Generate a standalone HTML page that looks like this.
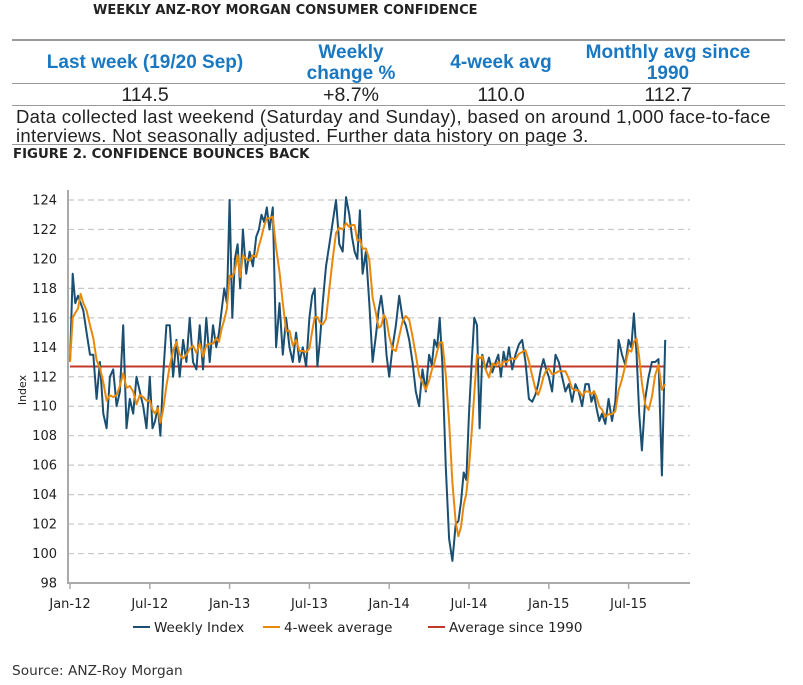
<!DOCTYPE html>
<html><head><meta charset="utf-8">
<style>
body{margin:0;background:#fff;width:803px;height:685px;position:relative;overflow:hidden;font-family:"DejaVu Sans","Liberation Sans",sans-serif;}
.abs{position:absolute;}
.title{left:93px;top:3px;font-size:13px;font-weight:bold;color:#222;}
.hl{left:12px;width:773px;height:0;border-top:2px solid #999;}
.th{color:#1a78c2;font-weight:bold;font-size:19px;text-align:center;line-height:21px;font-family:"Liberation Sans",sans-serif;white-space:nowrap;}
.td{font-size:19.5px;text-align:center;color:#222;font-family:"Liberation Sans",sans-serif;line-height:21px;}
.para{left:16px;top:107px;font-size:18.5px;letter-spacing:0.3px;line-height:19px;color:#222;font-family:"Liberation Sans",sans-serif;white-space:nowrap;}
.fig{left:13px;top:147px;font-size:13.3px;font-weight:bold;color:#222;}
.src{left:12px;top:663px;font-size:13.7px;color:#333;}
</style></head><body>
<div class="abs title">WEEKLY ANZ-ROY MORGAN CONSUMER CONFIDENCE</div>
<div class="abs hl" style="top:39px"></div>
<div class="abs th" style="left:10px;width:270px;top:52px">Last week (19/20 Sep)</div>
<div class="abs th" style="left:290px;width:122px;top:42px">Weekly<br>change %</div>
<div class="abs th" style="left:430px;width:142px;top:52px">4-week avg</div>
<div class="abs th" style="left:585px;width:166px;top:42px">Monthly avg since<br>1990</div>
<div class="abs hl" style="top:83px;border-top-width:1px"></div>
<div class="abs td" style="left:20px;width:250px;top:85px">114.5</div>
<div class="abs td" style="left:290px;width:122px;top:85px">+8.7%</div>
<div class="abs td" style="left:430px;width:142px;top:85px">110.0</div>
<div class="abs td" style="left:585px;width:166px;top:85px">112.7</div>
<div class="abs hl" style="top:105px;border-top-width:1px"></div>
<div class="abs para">Data collected last weekend (Saturday and Sunday), based on around 1,000 face-to-face<br>interviews. Not seasonally adjusted. Further data history on page 3.</div>
<div class="abs hl" style="top:144px;border-top-width:1px"></div>
<div class="abs fig">FIGURE 2. CONFIDENCE BOUNCES BACK</div>
<svg class="abs" style="left:0;top:0" width="803" height="685" id="chart"></svg>
<div class="abs src">Source: ANZ-Roy Morgan</div>
<script>
const monthLabels=["Jan-12","Jul-12","Jan-13","Jul-13","Jan-14","Jul-14","Jan-15","Jul-15"];
const yTicks=[98,100,102,104,106,108,110,112,114,116,118,120,122,124];
const longRunAvg=112.7;
const weeklyByMonth=[
[113,119,117,117.5,117],[116.5,115,113.5,113.5],[110.5,113,109.5,108.5],[112,112.5,110,111],
[115.5,108.5,110.5,109.5],[112,111,110,108.5],[112,108.5,109,110,108],[112,115.5,115.5,112],
[114.5,112,114.5,113],[116,113,112.5,115.5],[112.5,116,113,115.5],[114,115,116.5,118,117],
[124,116,120,121,118],[122,119,120.5,119.5],[121.5,122,123,122.5,123.5],[122,123.5,114,117],
[113.5,116,114,113],[115,113,114,112.7],[116,117.5,118,112.7,114.5],[117,119.5,121,122.5],
[124,121,120.5,124.2],[123,121.5,120.5,120,123.3],[119,120.5,117,113],[114.8,116.5,117.5,116,113.5],
[112,114,115.5,117.5],[116,115.5,114.5,113],[111,110,112.5,111],[113.5,112.8,114.5,114,116],
[112.8,106,101,99.5],[102,102.2,103.5,105.5,105],
[109.5,113,116,115.5,108.5],[113.5,112.5,113.3,112.3],[113,113.5,112,113.7,112.8],[114,112.5,113.5,114.2],
[114.5,113,110.5,110.3],[110.8,111.5,112.5,113.2,112.5],[112,111,113.5,113],[112,111,111.5,110.3],
[111.5,111,110,111.5],[111.5,110.3,110.8,109.8,109],[109.5,108.8,110.5,109],[110.3,114.5,113.5,112.8],
[114.5,114,116.3,113.5,109.5],[107,110.5,112,113],[113,113.2,105.3,114.5]
];
const svg=document.getElementById('chart');
const NS="http://www.w3.org/2000/svg";
const X0=70,MW=13.3,Y0=583,Y1=200;
const xScale=m=>X0+m*MW;
const yScale=v=>Y0-(v-98)/(124-98)*(Y0-Y1);
function mk(tag,attrs){const e=document.createElementNS(NS,tag);for(const k in attrs)e.setAttribute(k,attrs[k]);svg.appendChild(e);return e;}
yTicks.forEach(v=>{
  if(v>98){const g=mk('line',{x1:68,x2:690,y1:yScale(v),y2:yScale(v),stroke:'#c8c8c8','stroke-width':1.2,'stroke-dasharray':'6,4'});
  
  }
  const t=mk('text',{x:57,y:yScale(v)+4.5,'text-anchor':'end','font-size':13,fill:'#222','font-family':'DejaVu Sans, sans-serif'});
  t.textContent=v;
  
  
});
const ax=mk('line',{x1:68,x2:68,y1:190,y2:584,stroke:'#aaa','stroke-width':2});


const bx=mk('line',{x1:67,x2:690,y1:583,y2:583,stroke:'#aaa','stroke-width':2});


monthLabels.forEach((lab,i)=>{
  const x=xScale(i*6);
  const tk=mk('line',{x1:x,x2:x,y1:583,y2:589,stroke:'#aaa','stroke-width':1.5});
  
  
  const t=mk('text',{x:x,y:608,'text-anchor':'middle','font-size':13,fill:'#222','font-family':'DejaVu Sans, sans-serif'});
  t.textContent=lab;
  
  
});
const yt=mk('text',{x:26,y:390,'text-anchor':'middle','font-size':11,fill:'#222',transform:'rotate(-90 26 390)','font-family':'DejaVu Sans, sans-serif'});
yt.textContent='Index';


const pts=[];
weeklyByMonth.forEach((arr,m)=>arr.forEach((v,k)=>pts.push({x:xScale(m+k/arr.length),v:v})));
const avg4=pts.map((p,i)=>{const s=pts.slice(Math.max(0,i-3),i+1);return s.reduce((a,b)=>a+b.v,0)/s.length;});
const lastX=pts[pts.length-1].x;
const red=mk('line',{x1:X0,x2:lastX,y1:yScale(longRunAvg),y2:yScale(longRunAvg),stroke:'#c0392b','stroke-width':2});


const wl=mk('polyline',{points:pts.map(p=>p.x.toFixed(1)+','+yScale(p.v).toFixed(1)).join(' '),fill:'none',stroke:'#1b4f72','stroke-width':2,'stroke-linejoin':'round'});


const al=mk('polyline',{points:pts.map((p,i)=>p.x.toFixed(1)+','+yScale(avg4[i]).toFixed(1)).join(' '),fill:'none',stroke:'#e8890c','stroke-width':2,'stroke-linejoin':'round'});


[[133,'#1b4f72','Weekly Index','legend-weekly-index'],[263,'#e8890c','4-week average','legend-4-week-average'],[428,'#c0392b','Average since 1990','legend-average-since-1990']].forEach(l=>{
  const ln=mk('line',{x1:l[0],x2:l[0]+17,y1:627,y2:627,stroke:l[1],'stroke-width':2});
  
  
  const t=mk('text',{x:l[0]+21,y:632,'font-size':13.5,fill:'#222','font-family':'DejaVu Sans, sans-serif'});
  t.textContent=l[2];
  
  
});
</script>
</body></html>
